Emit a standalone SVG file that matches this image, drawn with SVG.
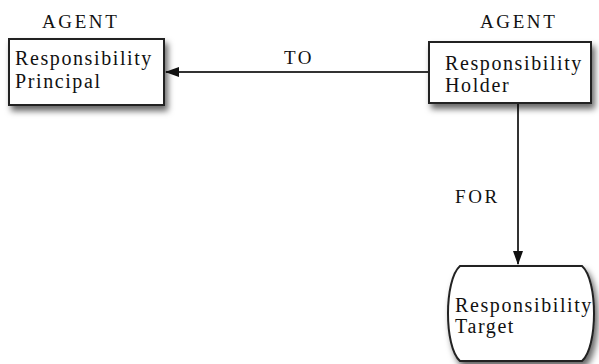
<svg xmlns="http://www.w3.org/2000/svg" width="599" height="364" viewBox="0 0 599 364">
<defs>
<filter id="sh" x="-20%" y="-20%" width="150%" height="160%">
<feDropShadow dx="3" dy="5" stdDeviation="3" flood-color="#000" flood-opacity="0.6"/>
</filter>
<marker id="ah" markerWidth="14" markerHeight="10" refX="13" refY="5" orient="auto" markerUnits="userSpaceOnUse">
<path d="M0,0 L14,5 L0,10 Z" fill="#111"/>
</marker>
</defs>
<style>
.node{fill:#fff;stroke:#222;stroke-width:2;filter:url(#sh)}
.t{font-family:"Liberation Serif","Times New Roman",serif;font-size:20px;fill:#111;letter-spacing:1.6px}
.lbl{font-family:"Liberation Serif","Times New Roman",serif;font-size:19px;fill:#111;letter-spacing:2.6px}
.c{fill:none;stroke:#333;stroke-width:2}
</style>
<rect width="599" height="364" fill="#fff"/>
<g id="connectors">
<line class="c" x1="429" y1="72" x2="166" y2="72" marker-end="url(#ah)"/>
<line class="c" x1="518" y1="103" x2="518" y2="264" marker-end="url(#ah)"/>
<text class="lbl" x="284" y="64">TO</text>
<text class="lbl" x="455" y="203">FOR</text>
</g>
<g id="principal">
<text class="lbl" x="42" y="28">AGENT</text>
<rect class="node" x="9" y="39" width="155" height="66"/>
<text class="t" x="15" y="65">Responsibility</text>
<text class="t" x="15" y="88">Principal</text>
</g>
<g id="holder">
<text class="lbl" x="480" y="28">AGENT</text>
<rect class="node" x="429" y="42" width="162" height="61"/>
<text class="t" x="445" y="70">Responsibility</text>
<text class="t" x="445" y="92">Holder</text>
</g>
<g id="target">
<path class="node" d="M460 266 L582 266 C598 280 598 347 582 361 L460 361 C444 347 444 280 460 266 Z"/>
<text class="t" x="455" y="312">Responsibility</text>
<text class="t" x="455" y="333">Target</text>
</g>
</svg>
